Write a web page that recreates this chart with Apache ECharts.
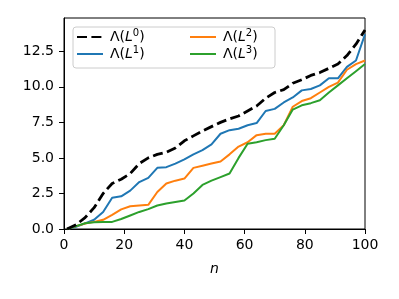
<!DOCTYPE html>
<html><head><meta charset="utf-8">
<script src="https://cdn.jsdelivr.net/npm/echarts@6/dist/echarts.min.js"></script>
<style>html,body{margin:0;padding:0;background:#fff}#c{width:399px;height:299px}</style>
</head><body><div id="c"></div>
<script>
const nVals = [1,4,7,10,13,16,19,22,25,28,31,34,37,40,43,46,49,52,55,58,61,64,67,70,73,76,79,82,85,88,91,94,97,100];
const L0 = [0,0.3,0.8,1.5,2.5,3.2,3.5,3.9,4.6,5.0,5.25,5.4,5.7,6.2,6.55,6.9,7.2,7.5,7.75,7.95,8.3,8.65,9.2,9.6,9.8,10.25,10.5,10.8,11.0,11.3,11.6,12.2,13.0,14.0];
const L1 = [0,0.15,0.4,0.65,1.2,2.2,2.3,2.7,3.3,3.6,4.3,4.35,4.6,4.9,5.25,5.55,5.95,6.7,6.95,7.05,7.3,7.45,8.3,8.45,8.9,9.25,9.75,9.85,10.1,10.6,10.6,11.4,11.85,13.7];
const L2 = [0,0.2,0.38,0.5,0.65,1.0,1.38,1.6,1.65,1.7,2.6,3.2,3.4,3.55,4.3,4.45,4.6,4.75,5.25,5.8,6.1,6.6,6.7,6.7,7.3,8.6,9.0,9.2,9.6,10.0,10.3,11.2,11.6,11.85];
const L3 = [0,0.2,0.4,0.47,0.5,0.5,0.7,0.95,1.2,1.4,1.65,1.8,1.9,2.0,2.5,3.1,3.4,3.65,3.9,5.0,6.0,6.1,6.25,6.35,7.3,8.4,8.7,8.85,9.05,9.6,10.1,10.6,11.1,11.6];
const yTicks = [0,2.5,5,7.5,10,12.5];
const xTicks = [0,20,40,60,80,100];
const sup = {L0:'0',L1:'1',L2:'2',L3:'3'};

const pairs = arr => nVals.map((n,i)=>[n,arr[i]]);
const F = 'DejaVu Sans';
const chart = echarts.init(document.getElementById('c'), null, {renderer:'canvas'});
const richTxt = {
  a:{fontFamily:F,fontSize:14,color:'#000',lineHeight:18},
  i:{fontFamily:F,fontSize:14,fontStyle:'italic',color:'#000',lineHeight:18},
  s:{fontFamily:F,fontSize:10,color:'#000',verticalAlign:'top',lineHeight:10}
};
const fmt = name => '{a|Λ(}{i|L}{s|' + sup[name] + '}{a|)}';
const legendBase = {
  orient:'vertical', itemWidth:26, itemHeight:14, itemGap:1, padding:0,
  itemStyle:{opacity:0},
  formatter: fmt, textStyle:{rich:richTxt, padding:[0,0,0,2]}, z:5
};
const colors = {L0:'#000',L1:'#1f77b4',L2:'#ff7f0e',L3:'#2ca02c'};
chart.setOption({
  animation:false,
  grid:{left:64,right:34,top:18,bottom:70,show:true,borderColor:'#000',borderWidth:1},
  xAxis:{type:'value',min:0,max:100,interval:20,
    axisLine:{show:true,lineStyle:{color:'#000',width:1}},
    axisTick:{show:true,length:5,lineStyle:{color:'#000'},customValues:xTicks},
    axisLabel:{color:'#000',fontFamily:F,fontSize:14,margin:9,customValues:xTicks},
    splitLine:{show:false},
    name:'n',nameLocation:'middle',nameGap:33,
    nameTextStyle:{color:'#000',fontFamily:F,fontSize:14,fontStyle:'italic'}},
  yAxis:{type:'value',min:0,max:14.84,interval:2.5,
    axisLine:{show:true,lineStyle:{color:'#000',width:1}},
    axisTick:{show:true,length:5,lineStyle:{color:'#000'},customValues:yTicks},
    axisLabel:{color:'#000',fontFamily:F,fontSize:14,margin:10,customValues:yTicks,formatter:v=>v.toFixed(1)},
    splitLine:{show:false}},
  legend:[
    Object.assign({},legendBase,{left:76,top:28,data:['L0','L1']}),
    Object.assign({},legendBase,{left:189,top:28,data:['L2','L3']})
  ],
  graphic:[{type:'rect',z:4,shape:{x:73,y:27,width:202,height:41,r:3},
    style:{fill:'rgba(255,255,255,0.8)',stroke:'#ccc',lineWidth:1}}],
  series:[
    {name:'L0',type:'line',data:pairs(L0),showSymbol:false,symbol:'none',z:3,
      lineStyle:{color:colors.L0,width:2.8,type:[10,4.4]},itemStyle:{color:colors.L0}},
    {name:'L1',type:'line',data:pairs(L1),showSymbol:false,symbol:'none',z:2,
      lineStyle:{color:colors.L1,width:2},itemStyle:{color:colors.L1}},
    {name:'L2',type:'line',data:pairs(L2),showSymbol:false,symbol:'none',z:2,
      lineStyle:{color:colors.L2,width:2},itemStyle:{color:colors.L2}},
    {name:'L3',type:'line',data:pairs(L3),showSymbol:false,symbol:'none',z:2,
      lineStyle:{color:colors.L3,width:2},itemStyle:{color:colors.L3}}
  ]
});
</script></body></html>
